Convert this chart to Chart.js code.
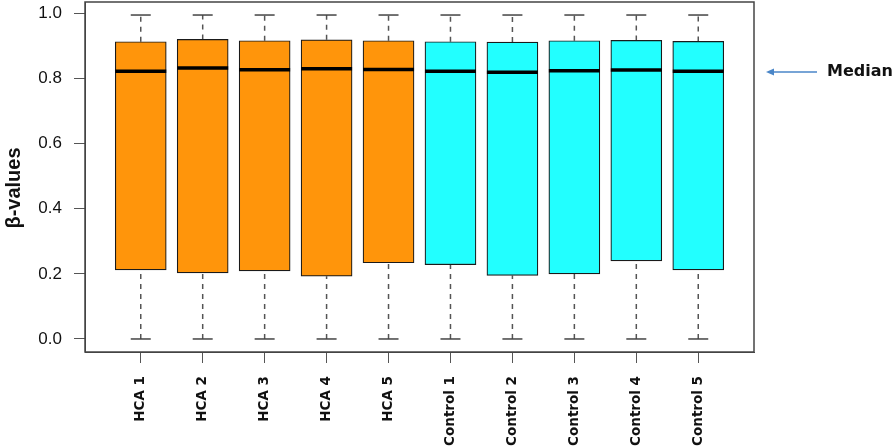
<!DOCTYPE html>
<html>
<head>
<meta charset="utf-8">
<script src="https://cdn.jsdelivr.net/npm/chart.js@4.4.1/dist/chart.umd.min.js"></script>
<style>
  body { margin: 0; background: #fff; }
  #wrap { width: 896px; height: 447px; }
</style>
</head>
<body>
<div id="wrap"><canvas id="boxChart" width="896" height="447"></canvas></div>
<script>
// samples and their group
var samples = ['HCA 1', 'HCA 2', 'HCA 3', 'HCA 4', 'HCA 5',
               'Control 1', 'Control 2', 'Control 3', 'Control 4', 'Control 5'];
var groups = ['HCA', 'HCA', 'HCA', 'HCA', 'HCA',
              'Control', 'Control', 'Control', 'Control', 'Control'];

// five-number summaries
var mins    = [0.0, 0.0, 0.0, 0.0, 0.0, 0.0, 0.0, 0.0, 0.0, 0.0];
var q1      = [0.212, 0.203, 0.209, 0.193, 0.234, 0.228, 0.195, 0.200, 0.240, 0.212];
var medians = [0.822, 0.832, 0.827, 0.830, 0.828, 0.822, 0.819, 0.824, 0.826, 0.822];
var q3      = [0.913, 0.920, 0.916, 0.919, 0.916, 0.913, 0.912, 0.916, 0.917, 0.914];
var maxs    = [0.995, 0.995, 0.995, 0.995, 0.995, 0.995, 0.995, 0.995, 0.995, 0.995];

var yTicks = [0, 0.2, 0.4, 0.6, 0.8, 1.0];
var medianMarker = 0.82;

var groupColors = { HCA: '#ff950b', Control: '#22ffff' };

var boxData = samples.map(function (s, i) { return { x: i + 1, y: [q1[i], q3[i]] }; });
var medianData = samples.map(function (s, i) { return { x: i + 1, y: medians[i] }; });
var capData = [];
var whiskerData = [];
samples.forEach(function (s, i) {
    capData.push({ x: i + 1, y: maxs[i] }, { x: i + 1, y: mins[i] });
    whiskerData.push({ x: i + 1, y: q3[i] }, { x: i + 1, y: maxs[i] }, { x: i + 1, y: null });
    whiskerData.push({ x: i + 1, y: mins[i] }, { x: i + 1, y: q1[i] }, { x: i + 1, y: null });
});

var extras = {
    id: 'extras',
    afterDatasetsDraw: function (chart) {
        var ctx = chart.ctx, a = chart.chartArea;
        ctx.save();
        ctx.strokeStyle = '#444';
        ctx.lineWidth = 1.5;
        ctx.strokeRect(a.left, a.top, a.right - a.left, a.bottom - a.top);
        ctx.restore();
    },
    afterDraw: function (chart) {
        var ctx = chart.ctx, a = chart.chartArea;
        ctx.save();
        // y axis title
        ctx.translate(14, 188);
        ctx.rotate(-Math.PI / 2);
        ctx.font = 'bold 20px "Liberation Sans", Arial, sans-serif';
        ctx.fillStyle = '#111';
        ctx.textAlign = 'center';
        ctx.textBaseline = 'middle';
        ctx.fillText('\u03b2-values', 0, 0);
        ctx.restore();

        // median pointer
        var y = chart.scales.y.getPixelForValue(medianMarker);
        var x0 = a.right + 12, x1 = a.right + 63;
        ctx.save();
        ctx.strokeStyle = '#4a86c8';
        ctx.fillStyle = '#4a86c8';
        ctx.lineWidth = 1.5;
        ctx.beginPath();
        ctx.moveTo(x0 + 4, y);
        ctx.lineTo(x1, y);
        ctx.stroke();
        ctx.beginPath();
        ctx.moveTo(x0, y);
        ctx.lineTo(x0 + 8, y - 3.5);
        ctx.lineTo(x0 + 8, y + 3.5);
        ctx.closePath();
        ctx.fill();
        ctx.font = 'bold 16px "DejaVu Sans", sans-serif';
        ctx.fillStyle = '#111';
        ctx.textAlign = 'left';
        ctx.textBaseline = 'middle';
        ctx.fillText('Median', a.right + 73, y);
        ctx.restore();
    }
};

var ctx = document.getElementById('boxChart').getContext('2d');
var boxChart = new Chart(ctx, {
    type: 'bar',
    data: {
        datasets: [
            {
                type: 'line',
                label: 'Median',
                data: medianData,
                showLine: false,
                pointStyle: 'line',
                pointRadius: 25.5,
                pointBorderWidth: 3.5,
                pointBorderColor: '#000'
            },
            {
                type: 'line',
                label: 'Caps',
                data: capData,
                showLine: false,
                pointStyle: 'line',
                pointRadius: 10,
                pointBorderWidth: 1.5,
                pointBorderColor: '#444'
            },
            {
                type: 'bar',
                label: 'IQR',
                data: boxData,
                backgroundColor: groups.map(function (g) { return groupColors[g]; }),
                borderColor: '#1a1a1a',
                borderWidth: 1.2,
                borderSkipped: false,
                barThickness: 51
            },
            {
                type: 'line',
                label: 'Whiskers',
                data: whiskerData,
                borderColor: '#555',
                borderWidth: 1.5,
                borderDash: [5, 5],
                pointRadius: 0,
                spanGaps: false
            }
        ]
    },
    options: {
        responsive: false,
        animation: false,
        events: [],
        layout: { autoPadding: false, padding: { top: 2, right: 142, left: 0, bottom: 0 } },
        plugins: {
            legend: { display: false },
            tooltip: { enabled: false }
        },
        scales: {
            x: {
                type: 'linear',
                min: 0.1,
                max: 10.9,
                offset: false,
                afterFit: function (s) {
                    s.height = 95;
                    s.paddingLeft = 0;
                    s.paddingRight = 0;
                },
                afterBuildTicks: function (s) {
                    s.ticks = samples.map(function (n, i) { return { value: i + 1 }; });
                },
                grid: { offset: false, drawOnChartArea: false, tickLength: 11, color: '#555' },
                border: { display: true, color: '#444' },
                ticks: {
                    autoSkip: false,
                    minRotation: 90,
                    maxRotation: 90,
                    padding: 13,
                    color: '#111',
                    font: { family: '"DejaVu Sans", sans-serif', size: 13.5, weight: 'bold' },
                    callback: function (v) { return samples[v - 1]; }
                }
            },
            y: {
                min: -0.04,
                max: 1.035,
                afterFit: function (s) {
                    s.width = 85;
                    s.paddingTop = 0;
                    s.paddingBottom = 0;
                },
                afterBuildTicks: function (s) {
                    s.ticks = yTicks.map(function (v) { return { value: v }; });
                },
                grid: { drawOnChartArea: false, tickLength: 11, color: '#555' },
                border: { display: true, color: '#444' },
                ticks: {
                    padding: 12,
                    color: '#111',
                    font: { family: '"Liberation Sans", Arial, sans-serif', size: 17 },
                    callback: function (v) { return v.toFixed(1); }
                }
            }
        }
    },
    plugins: [extras]
});
</script>
</body>
</html>
